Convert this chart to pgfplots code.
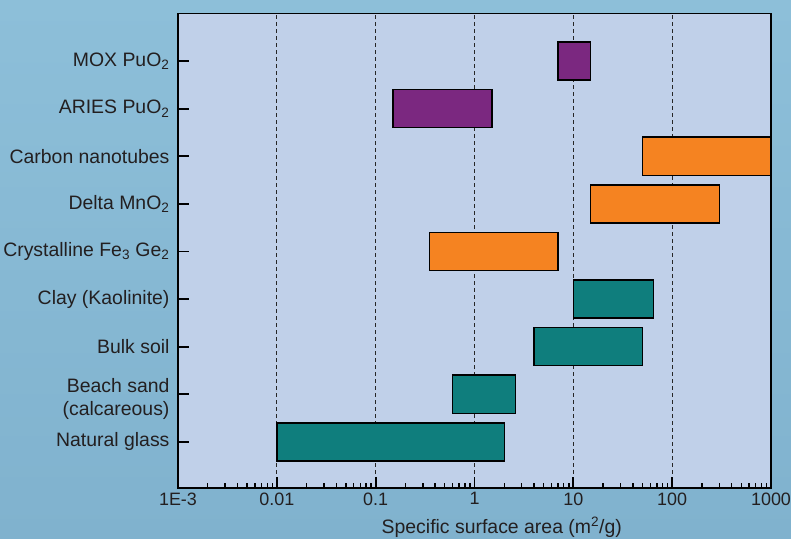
\documentclass[border=0pt]{standalone}
\usepackage{fontspec}
\setmainfont{Liberation Sans}
\usepackage{pgfplots}
\pgfplotsset{compat=1.18}

\definecolor{pagebgtop}{HTML}{8DBFD9}
\definecolor{pagebgbot}{HTML}{80B2CE}
\definecolor{plotbg}{HTML}{C0D0E9}
\definecolor{labelgray}{HTML}{231F20}
\definecolor{barteal}{HTML}{0F7E7D}
\definecolor{barorange}{HTML}{F58321}
\definecolor{barpurple}{HTML}{7B2880}

\begin{document}
\begin{tikzpicture}[x=1bp,y=1bp]
% page background
\shade[top color=pagebgtop, bottom color=pagebgbot] (-178,-51) rectangle (613,488);
\begin{axis}[
  at={(0,0)}, anchor=south west,
  scale only axis, width=593bp, height=474.5bp,
  xmode=log, xmin=1e-3, xmax=1000,
  ymin=0.03, ymax=10,
  axis background/.style={fill=plotbg},
  axis line style={line width=1.8bp, black},
  xtick={1e-3,1e-2,1e-1,1,10,100,1000},
  xticklabels={1E-3,0.01,0.1,1,10,100,1000},
  minor xtick={0.002,0.003,0.004,0.005,0.006,0.007,0.008,0.009,
               0.02,0.03,0.04,0.05,0.06,0.07,0.08,0.09,
               0.2,0.3,0.4,0.5,0.6,0.7,0.8,0.9,
               2,3,4,5,6,7,8,9,
               20,30,40,50,60,70,80,90,
               200,300,400,500,600,700,800,900},
  ytick={1,2,3,4,5,6,7,8,9},
  yticklabels={Natural glass,
               {\raisebox{-5bp}[\height][\depth]{\begin{tabular}{@{}r@{}}Beach sand\\[1bp](calcareous)\end{tabular}}},
               Bulk soil,
               Clay (Kaolinite),
               {Crystalline Fe\textsubscript{3} Ge\textsubscript{2}},
               {Delta MnO\textsubscript{2}},
               Carbon nanotubes,
               {ARIES PuO\textsubscript{2}},
               {MOX PuO\textsubscript{2}}},
  tick align=inside,
  xtick pos=bottom, ytick pos=left,
  major tick length=11bp, minor tick length=5bp,
  every major tick/.append style={black, line width=1.8bp},
  every minor tick/.append style={black, line width=1.4bp},
  xmajorgrids,
  grid style={dash pattern=on 4bp off 3bp, line width=0.9bp, black!85},
  xticklabel style={font=\fontsize{18}{20}\selectfont, text=labelgray, yshift=-1bp},
  yticklabel style={font=\fontsize{19.5}{22}\selectfont, text=labelgray, xshift=-5bp},
  xlabel={Specific surface area (m\textsuperscript{2}/g)},
  xlabel style={at={(axis description cs:0.546,0)}, anchor=base, yshift=-46bp,
                font=\fontsize{19.5}{22}\selectfont, text=labelgray},
  every axis plot/.append style={draw=black, line width=1.5bp, line join=miter},
]
% natural materials
\addplot[fill=barteal] coordinates {(0.01,0.6) (2,0.6) (2,1.4) (0.01,1.4)} -- cycle;
\addplot[fill=barteal] coordinates {(0.6,1.6) (2.6,1.6) (2.6,2.4) (0.6,2.4)} -- cycle;
\addplot[fill=barteal] coordinates {(4,2.6) (50,2.6) (50,3.4) (4,3.4)} -- cycle;
\addplot[fill=barteal] coordinates {(10,3.6) (65,3.6) (65,4.4) (10,4.4)} -- cycle;
% engineered materials
\addplot[fill=barorange] coordinates {(0.35,4.6) (7,4.6) (7,5.4) (0.35,5.4)} -- cycle;
\addplot[fill=barorange] coordinates {(15,5.6) (300,5.6) (300,6.4) (15,6.4)} -- cycle;
\addplot[fill=barorange] coordinates {(50,6.6) (1000,6.6) (1000,7.4) (50,7.4)} -- cycle;
% plutonium oxides
\addplot[fill=barpurple] coordinates {(0.15,7.6) (1.5,7.6) (1.5,8.4) (0.15,8.4)} -- cycle;
\addplot[fill=barpurple] coordinates {(7,8.6) (15,8.6) (15,9.4) (7,9.4)} -- cycle;
\end{axis}
\pgfresetboundingbox
\path (-178,-51) rectangle (613,488);
\end{tikzpicture}
\end{document}
